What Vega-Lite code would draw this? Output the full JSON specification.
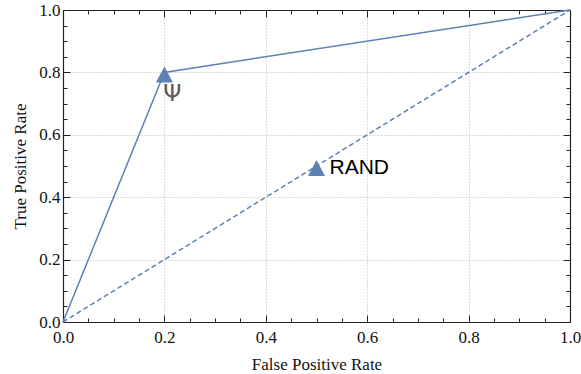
{
  "$schema": "https://vega.github.io/schema/vega-lite/v6.json",
  "width": 507,
  "height": 312,
  "autosize": {"type": "none"},
  "padding": {"left": 63, "top": 10, "right": 11, "bottom": 52},
  "background": "white",
  "config": {
    "view": {"stroke": null},
    "axis": {
      "domainColor": "#222222",
      "domainWidth": 1.2,
      "tickColor": "#222222",
      "tickWidth": 1,
      "labelFont": "Liberation Serif",
      "labelFontSize": 17,
      "labelColor": "#111111",
      "titleFont": "Liberation Serif",
      "titleFontSize": 17,
      "titleFontWeight": "normal",
      "titleColor": "#111111",
      "labelOverlap": false,
      "labelFlush": false,
      "labelBound": false,
      "gridColor": "#b8b8b8",
      "gridDash": [1, 2],
      "gridWidth": 1
    }
  },
  "datasets": {
    "roc": [{"fpr": 0, "tpr": 0}, {"fpr": 0.2, "tpr": 0.8}, {"fpr": 1, "tpr": 1}],
    "rand": [{"fpr": 0, "tpr": 0}, {"fpr": 1, "tpr": 1}],
    "pts": [
      {"fpr": 0.2, "tpr": 0.8, "label": "Ψ"},
      {"fpr": 0.5, "tpr": 0.5, "label": "RAND"}
    ]
  },
  "resolve": {"axis": {"x": "independent", "y": "independent"}},
  "layer": [
    {
      "data": {"name": "rand"},
      "mark": {"type": "line", "color": "#5E81B5", "strokeWidth": 1.5, "strokeDash": [5, 3]},
      "encoding": {
        "x": {"field": "fpr", "type": "quantitative", "scale": {"domain": [0, 1], "nice": false},
          "axis": {"orient": "top", "title": null, "labels": false, "grid": false,
            "values": [0,0.05,0.1,0.15,0.2,0.25,0.3,0.35,0.4,0.45,0.5,0.55,0.6,0.65,0.7,0.75,0.8,0.85,0.9,0.95,1],
            "tickSize": {"condition": {"test": "round(datum.value*100) % 20 == 0", "value": -7}, "value": -4}}},
        "y": {"field": "tpr", "type": "quantitative", "scale": {"domain": [0, 1], "nice": false},
          "axis": {"orient": "right", "title": null, "labels": false, "grid": false,
            "values": [0,0.05,0.1,0.15,0.2,0.25,0.3,0.35,0.4,0.45,0.5,0.55,0.6,0.65,0.7,0.75,0.8,0.85,0.9,0.95,1],
            "tickSize": {"condition": {"test": "round(datum.value*100) % 20 == 0", "value": -7}, "value": -4}}}
      }
    },
    {
      "data": {"name": "roc"},
      "mark": {"type": "line", "color": "#5E81B5", "strokeWidth": 1.5},
      "encoding": {
        "x": {"field": "fpr", "type": "quantitative", "scale": {"domain": [0, 1], "nice": false},
          "axis": {"orient": "bottom", "title": "False Positive Rate", "titlePadding": 8, "labelPadding": 14,
            "values": [0,0.05,0.1,0.15,0.2,0.25,0.3,0.35,0.4,0.45,0.5,0.55,0.6,0.65,0.7,0.75,0.8,0.85,0.9,0.95,1],
            "labelExpr": "round(datum.value*100) % 20 == 0 ? format(datum.value, '.1f') : ''",
            "tickSize": {"condition": {"test": "round(datum.value*100) % 20 == 0", "value": -7}, "value": -4},
            "grid": true,
            "gridOpacity": {"condition": {"test": "round(datum.value*100) % 20 == 0 && datum.value > 0.01 && datum.value < 0.99", "value": 1}, "value": 0}}},
        "y": {"field": "tpr", "type": "quantitative", "scale": {"domain": [0, 1], "nice": false},
          "axis": {"orient": "left", "title": "True Positive Rate", "titlePadding": 9, "labelPadding": 10,
            "values": [0,0.05,0.1,0.15,0.2,0.25,0.3,0.35,0.4,0.45,0.5,0.55,0.6,0.65,0.7,0.75,0.8,0.85,0.9,0.95,1],
            "labelExpr": "round(datum.value*100) % 20 == 0 ? format(datum.value, '.1f') : ''",
            "tickSize": {"condition": {"test": "round(datum.value*100) % 20 == 0", "value": -7}, "value": -4},
            "grid": true,
            "gridOpacity": {"condition": {"test": "round(datum.value*100) % 20 == 0 && datum.value > 0.01 && datum.value < 0.99", "value": 1}, "value": 0}}}
      }
    },
    {
      "data": {"name": "pts"},
      "mark": {"type": "point", "shape": "M0,-0.7L1,1.18L-1,1.18Z", "filled": true, "size": 289, "color": "#5E81B5", "opacity": 1},
      "encoding": {
        "x": {"field": "fpr", "type": "quantitative", "axis": null},
        "y": {"field": "tpr", "type": "quantitative", "axis": null}
      }
    },
    {
      "data": {"name": "pts"},
      "transform": [{"filter": "datum.label == 'Ψ'"}],
      "mark": {"type": "text", "font": "DejaVu Sans", "fontSize": 23, "color": "#5a5a5a", "align": "center", "baseline": "middle", "dx": 8, "dy": 22},
      "encoding": {
        "x": {"field": "fpr", "type": "quantitative", "axis": null},
        "y": {"field": "tpr", "type": "quantitative", "axis": null},
        "text": {"field": "label"}
      }
    },
    {
      "data": {"name": "pts"},
      "transform": [{"filter": "datum.label == 'RAND'"}],
      "mark": {"type": "text", "font": "Liberation Sans", "fontSize": 21, "color": "#000000", "align": "left", "baseline": "middle", "dx": 13, "dy": 2},
      "encoding": {
        "x": {"field": "fpr", "type": "quantitative", "axis": null},
        "y": {"field": "tpr", "type": "quantitative", "axis": null},
        "text": {"field": "label"}
      }
    }
  ]
}
